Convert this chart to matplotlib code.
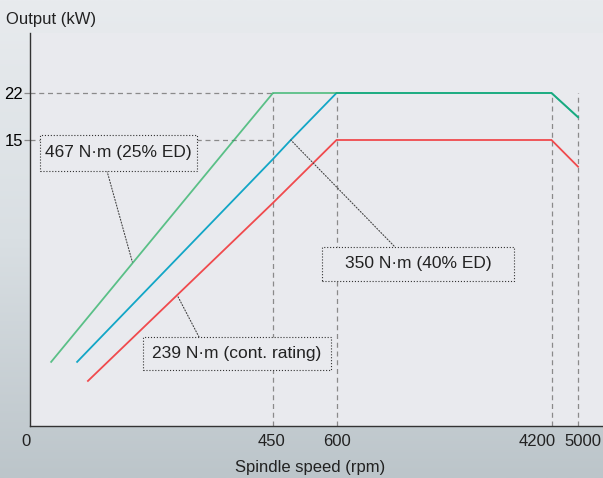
import numpy as np
import matplotlib
matplotlib.use("Agg")
import matplotlib.pyplot as plt
from matplotlib.colors import LinearSegmentedColormap
from matplotlib.transforms import ScaledTranslation, IdentityTransform
from matplotlib.patches import Rectangle

plt.rcParams['font.family'] = ['Liberation Sans', 'DejaVu Sans']
plt.rcParams['text.color'] = '#222222'

############
# data : spindle speed (rpm) vs output (kW)
############
speed_ticks = [0, 450, 600, 4200, 5000]
speed_labels = ['0', '450', '600', '4200', '5000']
output_ticks = [15, 22]

# 467 N·m (25% ED)
s467_speed = [40, 378, 450, 4200, 5000]
s467_kw = [3.35, 15, 22, 22, 18.4]
# 350 N·m (40% ED)
s350_speed = [88, 450, 492, 600, 4200, 5000]
s350_kw = [3.35, 14.0, 15, 22, 22, 18.4]
# 239 N·m (cont. rating)
s239_speed = [108, 450, 600, 4200, 5000]
s239_kw = [2.35, 11.7, 15, 15, 13.6]

labels = ['467 N·m (25% ED)', '350 N·m (40% ED)', '239 N·m (cont. rating)']

############
# schematic (piecewise) scales
############
x_knots = [0, 450, 600, 4200, 5000, 6000]
x_px = [0, 243.5, 307, 522, 548.5, 581.6]
y_knots = [0, 15, 22, 40]
y_px = [0, 285.7, 332.7, 453.6]


def x_fwd(v):
    return np.interp(v, x_knots, x_px)

def x_inv(p):
    return np.interp(p, x_px, x_knots)

def y_fwd(v):
    return np.interp(v, y_knots, y_px)

def y_inv(p):
    return np.interp(p, y_px, y_knots)


fig = plt.figure(figsize=(6.03, 4.78), dpi=100)

# background gradient
bg = fig.add_axes([0, 0, 1, 1], zorder=-5)
cmap = LinearSegmentedColormap.from_list('bg', ['#bcc5ca', '#d9dfe3', '#e8ebee'])
grad = np.linspace(0, 1, 256).reshape(-1, 1)
bg.imshow(grad, extent=[0, 1, 0, 1], aspect='auto', cmap=cmap, origin='lower')
bg.axis('off')

ax = fig.add_axes([29.5 / 603, 52.3 / 478, 573.5 / 603, 392.7 / 478])
ax.set_facecolor('#e9eaee')
ax.set_xscale('function', functions=(x_fwd, x_inv))
ax.set_yscale('function', functions=(y_fwd, y_inv))
ax.set_xlim(0, x_inv(573.5))
ax.set_ylim(0, y_inv(392.7))

for s in ['top', 'right']:
    ax.spines[s].set_visible(False)
for s in ['left', 'bottom']:
    ax.spines[s].set_color('#333333')
    ax.spines[s].set_linewidth(1.0)

# guide lines
ax.hlines(output_ticks, 0, 450, colors='#8a8a8a', linestyles=(0, (4, 3)), lw=0.9)
ax.vlines(speed_ticks[1:], 0, 22, colors='#8a8a8a', linestyles=(0, (4, 3)), lw=0.9)

# curves
ax.plot(s239_speed, s239_kw, color='#f04a4d', lw=1.3, solid_joinstyle='miter')
ax.plot(s350_speed, s350_kw, color='#12a6c6', lw=1.3, solid_joinstyle='miter')
ax.plot(s467_speed, s467_kw, color='#1dae5b', lw=1.3, alpha=0.7, solid_joinstyle='miter')

# ticks
ax.set_xticks([])
ax.set_yticks(output_ticks)
ax.set_yticklabels([str(v) for v in output_ticks], fontsize=12)
ax.tick_params(axis='y', length=4, width=0.9, color='#8a8a8a', pad=0.5)

xt = ax.get_xaxis_transform()
offs = {'0': ('right', 1), '450': ('center', -2), '600': ('center', 0),
        '4200': ('right', 4), '5000': ('center', 4.5)}
for v, lab in zip(speed_ticks, speed_labels):
    ha, dx = offs[lab]
    ax.text(v, 0, lab, fontsize=12, ha=ha, va='baseline',
            transform=xt + ScaledTranslation(dx / 100, -20 / 100, fig.dpi_scale_trans))

fig.text(6 / 603, 454 / 478, 'Output (kW)', fontsize=12, ha='left', va='baseline')
fig.text(310 / 603, 6 / 478, 'Spindle speed (rpm)', fontsize=12, ha='center', va='baseline')

# leaders
leader = dict(arrowstyle='-', color='#444444', lw=0.8, ls=':', shrinkA=0, shrinkB=0)
ax.annotate('', xy=(190, 8.6), xycoords='data', xytext=(107, 307),
            textcoords='figure pixels', arrowprops=leader)
ax.annotate('', xy=(492, 15), xycoords='data', xytext=(394, 232),
            textcoords='figure pixels', arrowprops=leader)
ax.annotate('', xy=(273, 6.85), xycoords='data', xytext=(199, 141),
            textcoords='figure pixels', arrowprops=leader)

# label boxes (figure pixels: left, bottom, width, height)
boxes = [(39.5, 307.3, 157.8, 35.7), (322, 197.3, 192, 33.7), (143.3, 108, 187.4, 33)]
for lab, (bx, by, bw, bh) in zip(labels, boxes):
    ax.add_patch(Rectangle((bx, by), bw, bh, transform=IdentityTransform(),
                           fc='#e9eaee', ec='#333333', lw=0.8, ls=':',
                           zorder=3, clip_on=False))
    ax.annotate(lab, xy=(bx + bw / 2, by + bh / 2), xycoords='figure pixels',
                ha='center', va='center', fontsize=12.5, zorder=4)

plt.savefig('out.png', dpi=100)
